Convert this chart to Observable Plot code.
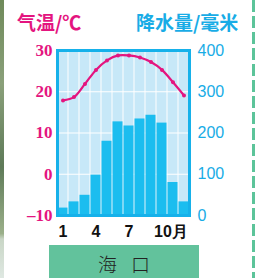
<!DOCTYPE html>
<html>
<head>
<meta charset="utf-8">
<script src="https://cdn.jsdelivr.net/npm/d3@7"></script>
<script src="https://cdn.jsdelivr.net/npm/@observablehq/plot@0.6"></script>
<style>
  html, body { margin: 0; padding: 0; background: #fff; }
  #wrap { position: relative; width: 257px; height: 278px; overflow: hidden; background: #fff; }
  .title { position: absolute; top: 10px; font-family: "Noto Sans CJK SC", sans-serif; font-weight: bold; font-size: 19px; line-height: 24px; white-space: nowrap; }
  #tl { left: 17px; color: #e4157f; }
  #tr { left: 136px; color: #18ace6; }
  #chart { position: absolute; left: 0; top: 0; }
  #city { position: absolute; left: 49px; top: 245px; width: 150px; height: 40px; background: #62c29c; }
  #city span { position: absolute; left: 0; width: 150px; top: 5px; text-align: center; font-family: "Noto Sans CJK SC", sans-serif; font-weight: 300; font-size: 19px; color: #222; word-spacing: 10px; }
  #photo { position: absolute; left: 0; top: 0; width: 4px; height: 278px; background: linear-gradient(#6f8a5a, #8aa07a 30%, #5e7a58 60%, #9bb08a 84%, #c9d6c6 86%, #dfe8e2); }
  #dash { position: absolute; left: 252px; top: 0; width: 3px; height: 278px; background: repeating-linear-gradient(#5cc49a 0 12px, #fff 12px 16px); }
</style>
</head>
<body>
<div id="wrap">
  <div id="photo"></div>
  <div id="dash"></div>
  <div class="title" id="tl">气温/℃</div>
  <div class="title" id="tr">降水量/毫米</div>
  <div id="chart"></div>
  <div id="city"><span>海 口</span></div>
</div>
<script>
const months = [1,2,3,4,5,6,7,8,9,10,11,12];
const temperature = [17.9, 18.7, 21.9, 25.3, 27.6, 28.8, 28.8, 28.3, 27.2, 25.3, 22.3, 19.1];
const precipitation = [18, 33, 49, 98, 180, 227, 217, 234, 243, 224, 80, 33];
const tempTicks = [-10, 0, 10, 20, 30];
const precipTicks = [0, 100, 200, 300, 400];
const xTickMonths = [1, 4, 7];
const xTickLast = [10];

const pink = "#e4157f";
const blue = "#18ace6";
const barBlue = "#1bbdef";
const bgBlue = "#c7e8f8";

const data = months.map((m, i) => ({month: m, t: temperature[i], p: precipitation[i]}));
const pToY = p => p / 10 - 10;

const chart = Plot.plot({
  width: 257,
  height: 245,
  marginLeft: 57,
  marginRight: 68,
  marginTop: 50,
  marginBottom: 30,
  style: {background: "transparent", overflow: "visible"},
  x: {type: "band", domain: months, padding: 0, axis: null, label: null},
  y: {domain: [-10, 30], axis: null, label: null},
  marks: [
    Plot.barY(months, {x: d => d, y1: -10, y2: 30, fill: bgBlue, insetLeft: 0.5, insetRight: 0.5}),
    Plot.ruleY([0, 10, 20], {stroke: "white", strokeWidth: 1.2}),
    Plot.barY(data, {x: "month", y1: -10, y2: d => pToY(d.p), fill: barBlue, insetLeft: 0.5, insetRight: 0.5}),
    Plot.frame({stroke: "#16b1ea", strokeWidth: 3}),
    Plot.line(data, {x: "month", y: "t", stroke: pink, strokeWidth: 2.2, curve: "catmull-rom"}),
    Plot.dot(data, {x: "month", y: "t", r: 2, fill: pink}),
    Plot.axisY(tempTicks, {anchor: "left", label: null, tickSize: 0, tickPadding: 5, fill: pink, fontSize: 17, fontFamily: "Liberation Serif", fontWeight: "bold",
      tickFormat: d => d < 0 ? "–" + Math.abs(d) : String(d)}),
    Plot.axisY(precipTicks.map(pToY), {anchor: "right", label: null, tickSize: 0, tickPadding: 8, fill: blue, fontSize: 16, fontFamily: "Liberation Sans",
      tickFormat: d => String(Math.round((d + 10) * 10))}),
    Plot.text(xTickMonths, {x: d => d, y: -10, dy: 16, text: d => String(d), fill: "#111", fontSize: 16, fontFamily: "Liberation Sans", fontWeight: "bold"}),
    Plot.text(xTickLast, {x: d => d, y: -10, dy: 16, dx: -8, textAnchor: "start", text: d => d + "月", fill: "#111", fontSize: 16, fontFamily: "Liberation Sans", fontWeight: "bold"})
  ]
});
document.getElementById("chart").appendChild(chart);
</script>
</body>
</html>
